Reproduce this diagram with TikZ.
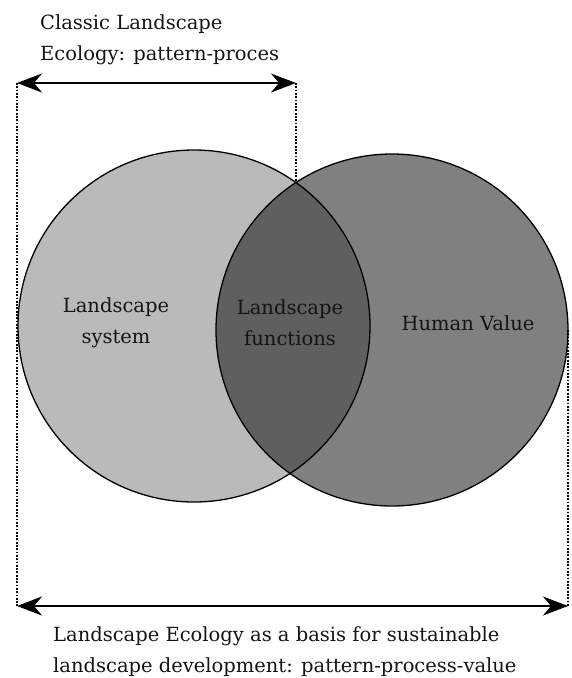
\documentclass[tikz,border=0pt]{standalone}
\usepackage{fontspec}
\setmainfont{DejaVu Serif}
\usetikzlibrary{arrows.meta}
\definecolor{leftgray}{HTML}{BABABA}
\definecolor{rightgray}{HTML}{808080}
\definecolor{lensgray}{HTML}{5F5F5F}
\tikzset{
  lbl/.style={inner sep=0pt, text=black!92, font=\fontsize{19.5pt}{31pt}\selectfont},
  circfill/.style={circle, minimum size=352pt, inner sep=0pt},
  outline/.style={line width=1.3pt, draw=black},
  dimline/.style={line width=2.2pt, {Stealth[length=25pt,width=19pt,inset=8pt]}-{Stealth[length=25pt,width=19pt,inset=8pt]}},
  guide/.style={line width=2pt, dash pattern=on 1.8pt off 1.5pt}
}
\begin{document}
\begin{tikzpicture}[x=1pt,y=1pt]
\useasboundingbox (0,0) rectangle (571,-678);
% circles
\node[circfill, fill=leftgray] (LC) at (194,-326) {};
\node[circfill, fill=rightgray] (RC) at (392,-330) {};
\begin{scope}
  \clip (LC.center) circle[radius=176];
  \fill[lensgray] (RC.center) circle[radius=176];
\end{scope}
\draw[outline] (LC.center) circle[radius=176];
\draw[outline] (RC.center) circle[radius=176];
% coordinates
\coordinate (tl) at (17,-83);
\coordinate (tr) at (296,-83);
\coordinate (bl) at (17,-606);
\coordinate (br) at (568,-606);
\coordinate (ix) at (296,-182.5);
\coordinate (re) at (568,-330);
% guides
\draw[guide] (tl) -- (bl);
\draw[guide] (tr) -- (ix);
\draw[guide] (re) -- (br);
% arrows
\draw[dimline] (tl) -- (tr);
\draw[dimline] (bl) -- (br);
% labels (base anchor = baseline of last line)
\node[lbl, align=left, anchor=base west] (title) at (40,-60) {Classic Landscape\\Ecology: pattern-proces};
\node[lbl, align=left, anchor=base west] (bottom) at (53,-672) {Landscape Ecology as a basis for sustainable\\landscape development: pattern-process-value};
\node[lbl, align=center, anchor=base] (sys) at (116,-343) {Landscape\\system};
\node[lbl, align=center, anchor=base] (fun) at (290,-345) {Landscape\\functions};
\node[lbl, anchor=base] (hum) at (468,-330) {Human Value};
\end{tikzpicture}
\end{document}
